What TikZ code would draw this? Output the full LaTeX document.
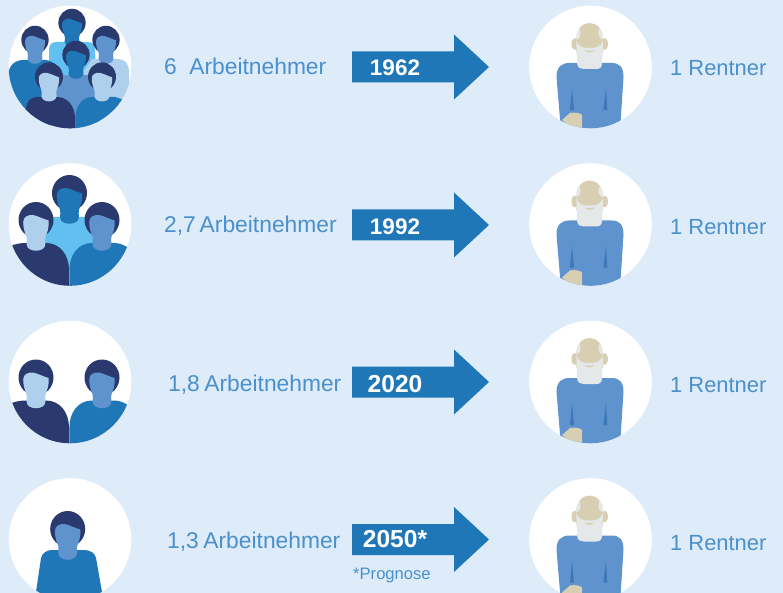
\documentclass[tikz,border=0pt]{standalone}
\usepackage{fontspec}
\setmainfont{Liberation Sans}
\definecolor{bgc}{HTML}{DEEBF9}
\definecolor{navy}{HTML}{2A3A6E}
\definecolor{midb}{HTML}{2077B8}
\definecolor{softb}{HTML}{5E93CE}
\definecolor{paleb}{HTML}{AED0EC}
\definecolor{cyanb}{HTML}{62C0F0}
\definecolor{txtb}{HTML}{4A90CC}
\definecolor{tan}{HTML}{D8CFB2}
\definecolor{beardc}{HTML}{E4E8E8}
\definecolor{foldb}{HTML}{3F78B8}
\tikzset{
  disc/.style={fill=white},
  labeltext/.style={text=txtb,inner sep=0pt,anchor=base west,font=\fontsize{22.8}{26}\selectfont},
  rentnertext/.style={text=txtb,inner sep=0pt,anchor=base west,font=\fontsize{21.9}{26}\selectfont},
  yeartext/.style={text=white,inner sep=0pt,anchor=base,font=\bfseries\fontsize{22.5}{26}\selectfont},
  widetext/.style={text=white,inner sep=0pt,anchor=base,font=\bfseries\fontsize{24.6}{26}\selectfont},
  notetext/.style={text=txtb,inner sep=0pt,anchor=base west,font=\fontsize{16.6}{19}\selectfont},
  arrowshape/.style={fill=midb}
}
% head: x, y, scale, hair colour, face colour
\newcommand{\headfig}[5]{%
  \begin{scope}[shift={(#1,#2)},scale=#3]
    \fill[#4] (0,1) ellipse [x radius=17.5, y radius=18];
    \fill[#5] (-12.8,3) .. controls (-12.8,-2) and (-8,-4.5) .. (-3,-4)
      .. controls (2,-3) and (7,0) .. (12.6,1.5)
      .. controls (13.2,9) and (11,14) .. (9.4,18)
      .. controls (8.8,20) and (9.4,22) .. (9.4,25)
      .. controls (9.4,34) and (-9.4,34) .. (-9.4,25)
      .. controls (-9.4,22) and (-8.8,20) .. (-9.4,18)
      .. controls (-11,14) and (-12.8,9) .. (-12.8,3) -- cycle;
  \end{scope}}
% retiree at circle centre
\newcommand{\retiree}[2]{%
  \begin{scope}[shift={(#1,#2)}]
    \fill[disc] (0,0) circle [radius=61.3];
    \clip (0,0) circle [radius=61.3];
    \fill[softb] (-34,10) .. controls (-34,0) and (-29,-4) .. (-21,-4)
      -- (21,-4) .. controls (29,-4) and (33,0) .. (33,10)
      -- (29.5,64) -- (-29.5,64) -- cycle;
    \fill[foldb] (-18.5,21) -- (-16.5,43) -- (-20.5,43) -- cycle;
    \fill[foldb] (15.5,21) -- (12.8,43) -- (16.8,43) -- cycle;
    \fill[tan] (-28.5,53) -- (-20.5,46) .. controls (-16,45) and (-10,46) .. (-8.5,48)
      -- (-8.5,62) -- (-20,60) -- cycle;
    \fill[tan] (-15.8,-23) ellipse [x radius=3.2, y radius=6];
    \fill[tan] (14.2,-23) ellipse [x radius=3.2, y radius=6];
    \begin{scope}
      \path[clip] (-14.2,-28) .. controls (-14.2,-38) and (-8,-44) .. (-1,-44)
        .. controls (6,-44) and (12.6,-38) .. (12.6,-28) -- (12.6,-14) -- (-14.2,-14) -- cycle;
      \fill[tan] (-15,-45) rectangle (13,-14);
      \fill[beardc] (-14.5,-34) ellipse [x radius=4.5, y radius=6.5];
      \fill[beardc] (12.5,-34) ellipse [x radius=4.5, y radius=6.5];
    \end{scope}
    \fill[beardc] (-14.2,-27) -- (-13.5,-4) .. controls (-13,1) and (-10,2) .. (-7,2)
      -- (5,2) .. controls (9,2) and (11.5,1) .. (11.5,-4) -- (12.6,-27)
      .. controls (10,-20) and (6,-19) .. (-1,-19)
      .. controls (-8,-19) and (-12,-20) .. (-14.2,-27) -- cycle;
    \fill[tan] (-6,-17) .. controls (-3,-16) and (1,-16) .. (4,-17)
      .. controls (2,-14) and (-4,-14) .. (-6,-17) -- cycle;
  \end{scope}}
% arrow centred on row y
\newcommand{\yeararrow}[1]{%
  \fill[arrowshape] (352,#1-15.5) -- (454,#1-15.5) -- (454,#1-32.5) -- (489,#1)
    -- (454,#1+32.5) -- (454,#1+15.5) -- (352,#1+15.5) -- cycle;}
\begin{document}
\begin{tikzpicture}[x=1pt,y=-1pt]
\useasboundingbox (0,0) rectangle (783,593);
\clip (0,0) rectangle (783,593);
\fill[bgc] (0,0) rectangle (783,593);

% --- row 1 group
\begin{scope}
  \fill[disc] (70,67) circle [radius=61.3];
  \clip (70,67) circle [radius=61.3];
  \fill[cyanb] (49,50) .. controls (49,44) and (52,42) .. (57,42) -- (87,42) .. controls (92,42) and (95,44) .. (95,50) -- (97,90) -- (49,90) -- cycle;
  \headfig{72}{22}{0.78}{navy}{midb}
  \fill[paleb] (83,72) -- (92,59) -- (118,59) .. controls (125,59) and (129,64) .. (129,72) -- (130,110) -- (95,110) -- cycle;
  \headfig{106}{39}{0.78}{navy}{softb}
  \fill[midb] (8,75) .. controls (9,65) and (15,60) .. (24,60) -- (46,60) .. controls (52,60) and (58,66) .. (60,75) -- (50,130) -- (8,130) -- cycle;
  \headfig{35}{39}{0.78}{navy}{softb}
  \fill[softb] (55,83) .. controls (58,77) and (62,75) .. (68,75) -- (86,75) .. controls (92,75) and (97,77) .. (100,83) -- (100,130) -- (60,130) -- cycle;
  \headfig{76}{54}{0.78}{navy}{midb}
  \fill[navy] (26,108) .. controls (27,101) and (31,97) .. (37,97) -- (57,97) .. controls (68,97) and (75,107) .. (75,118) -- (75,130) -- (20,130) -- cycle;
  \headfig{49}{76}{0.8}{navy}{paleb}
  \fill[midb] (75.4,130) -- (75.4,118) .. controls (75.4,107) and (82,97) .. (92,97) -- (115,97) -- (124,100) -- (124,130) -- cycle;
  \headfig{102}{76}{0.8}{navy}{paleb}
\end{scope}

% --- row 2 group
\begin{scope}
  \fill[disc] (70,224.5) circle [radius=61.3];
  \clip (70,224.5) circle [radius=61.3];
  \fill[cyanb] (45,217) -- (95,217) -- (95,250) -- (69,270) -- (45,250) -- cycle;
  \headfig{69.5}{192}{1}{navy}{midb}
  \fill[navy] (10,246) .. controls (16,244) and (20,243) .. (26,243) -- (46,243) .. controls (60,243) and (69,255) .. (69,270) -- (69,290) -- (5,290) -- cycle;
  \headfig{36}{219}{1}{navy}{paleb}
  \fill[midb] (69.4,290) -- (69.4,270) .. controls (69.4,255) and (78,243) .. (92,243) -- (114,243) .. controls (120,243) and (124,245) .. (130,249) -- (130,290) -- cycle;
  \headfig{102}{219}{1}{navy}{softb}
\end{scope}

% --- row 3 group
\begin{scope}
  \fill[disc] (70,382) circle [radius=61.3];
  \clip (70,382) circle [radius=61.3];
  \fill[navy] (10,403.5) .. controls (16,401.5) and (20,400.5) .. (26,400.5) -- (46,400.5) .. controls (60,400.5) and (69,412.5) .. (69,427.5) -- (69,447) -- (5,447) -- cycle;
  \headfig{36}{376.5}{1}{navy}{paleb}
  \fill[midb] (69.4,447) -- (69.4,427.5) .. controls (69.4,412.5) and (78,400.5) .. (92,400.5) -- (114,400.5) .. controls (120,400.5) and (124,402.5) .. (130,406.5) -- (130,447) -- cycle;
  \headfig{102}{376.5}{1}{navy}{softb}
\end{scope}

% --- row 4 person
\begin{scope}
  \fill[disc] (70,539.5) circle [radius=61.3];
  \clip (70,539.5) circle [radius=61.3];
  \fill[midb] (41,558) .. controls (42,553) and (47,550) .. (52,550) -- (84,550) .. controls (90,550) and (95,553) .. (96,558) -- (102,592) -- (102,600) -- (36,600) -- (36,592) -- cycle;
  \headfig{67.7}{528}{1}{navy}{softb}
\end{scope}

% --- retirees
\retiree{590.5}{67}
\retiree{590.5}{224.5}
\retiree{590.5}{382}
\retiree{590.5}{539.5}

% --- arrows
\yeararrow{67}
\yeararrow{225}
\yeararrow{382}
\yeararrow{539.5}

% --- labels
\node[labeltext] (w1) at (164,75) {6\hspace{0.55em}Arbeitnehmer};
\node[labeltext] (w2) at (164,233) {2,7\hspace{0.17em}Arbeitnehmer};
\node[labeltext] (w3) at (168,391) {1,8\hspace{0.2em}Arbeitnehmer};
\node[labeltext] (w4) at (167,548) {1,3\hspace{0.2em}Arbeitnehmer};
\node[rentnertext] (r1) at (670,76) {1 Rentner};
\node[rentnertext] (r2) at (670,235) {1 Rentner};
\node[rentnertext] (r3) at (670,392) {1 Rentner};
\node[rentnertext] (r4) at (670,550) {1 Rentner};
\node[yeartext] (y1) at (395,76) {1962};
\node[yeartext] (y2) at (395,235) {1992};
\node[widetext] (y3) at (395,392) {2020};
\node[widetext] (y4) at (395,547) {2050*};
\node[notetext] (n4) at (353,579) {*Prognose};
\end{tikzpicture}
\end{document}
